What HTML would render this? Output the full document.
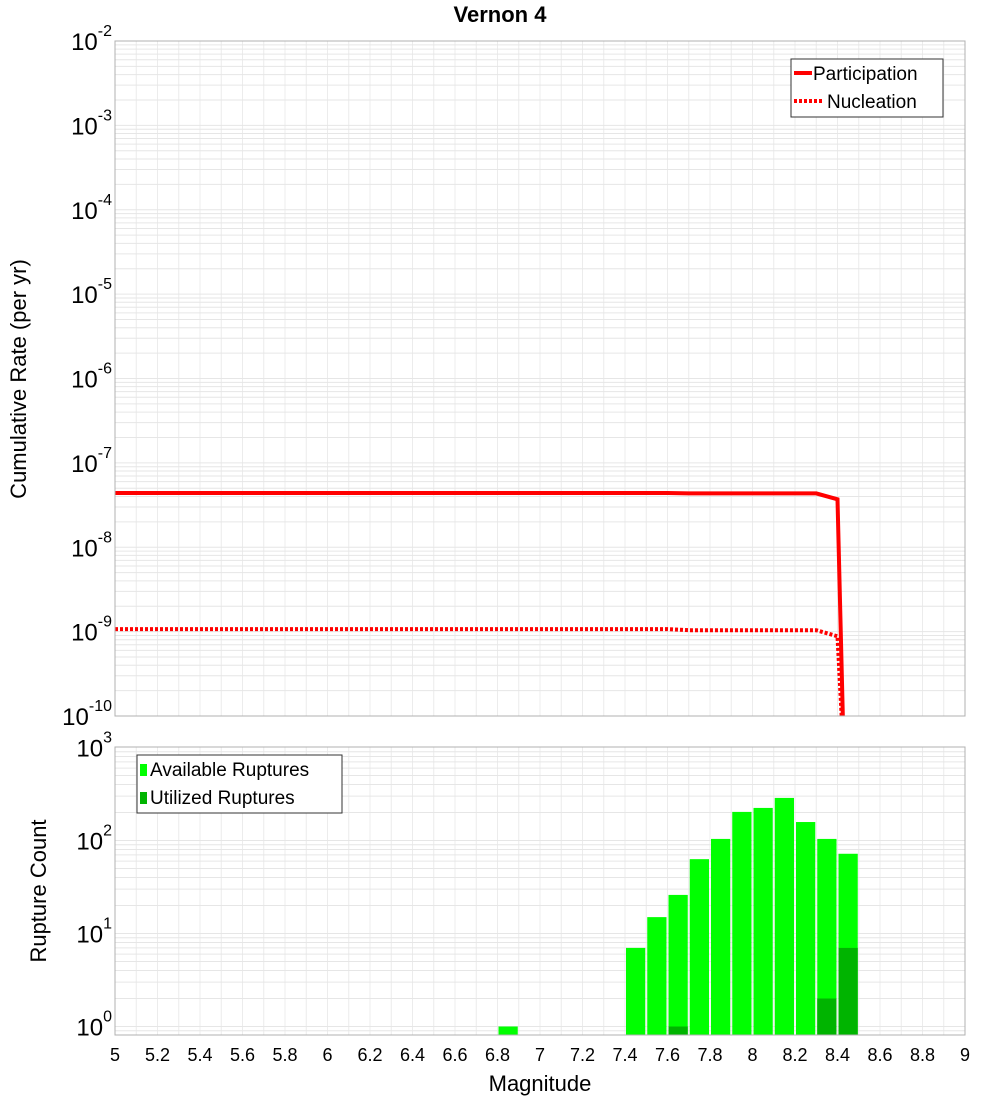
<!DOCTYPE html>
<html><head><meta charset="utf-8"><style>
body{margin:0;background:#fff}
svg{display:block;font-family:"Liberation Sans","DejaVu Sans",sans-serif}
</style></head><body>
<svg id="c" width="1000" height="1100" xmlns="http://www.w3.org/2000/svg"></svg>
<script>
const rateMags=[5.0,5.5,6.0,6.5,7.0,7.5,7.6,7.7,8.0,8.3,8.4,8.43];
const participation=[4.4e-8,4.4e-8,4.4e-8,4.4e-8,4.4e-8,4.4e-8,4.4e-8,4.35e-8,4.35e-8,4.35e-8,3.7e-8,3e-11];
const nucleation=[1.07e-9,1.07e-9,1.07e-9,1.07e-9,1.07e-9,1.07e-9,1.07e-9,1.04e-9,1.04e-9,1.04e-9,8.8e-10,3e-11];
const binMags=[6.85,7.45,7.55,7.65,7.75,7.85,7.95,8.05,8.15,8.25,8.35,8.45];
const available=[1,7,15,26,63,104,203,224,287,158,104,72];
const utilized=[0,0,0,1,0,0,0,0,0,0,2,7];
const xTicks=["5","5.2","5.4","5.6","5.8","6","6.2","6.4","6.6","6.8","7","7.2","7.4","7.6","7.8","8","8.2","8.4","8.6","8.8","9"];
const topExps=[-2,-3,-4,-5,-6,-7,-8,-9,-10];
const botExps=[3,2,1,0];

const NS="http://www.w3.org/2000/svg";
const svg=document.getElementById('c');
function el(t,a,p){const e=document.createElementNS(NS,t);for(const k in a)e.setAttribute(k,a[k]);(p||svg).appendChild(e);return e;}
const L=115,R=965;
const X=m=>L+(m-5)/4*(R-L);
const T0=41,T1=716;const yT=v=>T0+(-2-Math.log10(v))*(T1-T0)/8;
const B0=747,B1=1035;const yB=v=>1026.5-Math.log10(v)*93;

function grid(top,bot,yf,lo,hi,name){
  const g=el('g',{});
  
  
  for(let m=5;m<=9.001;m+=0.1){const x=X(m);el('line',{x1:x,x2:x,y1:top,y2:bot,stroke:'#ececec','stroke-width':1},g);}
  for(let e=lo;e<hi;e++)for(let k=1;k<10;k++){const y=yf(k*Math.pow(10,e));if(y>=top&&y<=bot)el('line',{x1:L,x2:R,y1:y,y2:y,stroke:'#e6e6e6','stroke-width':1},g);}
}
grid(T0,T1,yT,-10,-2,'top-grid');
grid(B0,B1,yB,-1,3,'bottom-grid');

// title
const t=el('text',{x:500,y:22,'text-anchor':'middle','font-size':22,'font-weight':'bold'});t.textContent='Vernon 4';


// top lines
function line(vals,extra,name){
  const g=el('g',{'clip-path':'url(#ct)'});
  const d=rateMags.map((m,i)=>(i?'L':'M')+X(m).toFixed(1)+','+yT(vals[i]).toFixed(1)).join(' ');
  const p=el('path',Object.assign({d:d,fill:'none',stroke:'#ff0000','stroke-width':4},extra),g);
  
}
const defs=el('defs',{});const cp=el('clipPath',{id:'ct'},defs);el('rect',{x:L,y:T0,width:R-L,height:T1-T0},cp);
line(nucleation,{'stroke-dasharray':'3,2'},'nucleation-line');
line(participation,{},'participation-line');

// bars
binMags.forEach((m,i)=>{
  const x=X(m-0.05)+1,w=X(m+0.05)-X(m-0.05)-2;
  if(available[i]>0){const y=yB(available[i]);const r=el('rect',{x:x,y:y,width:w,height:B1-y,fill:'#00ff00'});
  }
  if(utilized[i]>0){const y=yB(utilized[i]);const r=el('rect',{x:x,y:y,width:w,height:B1-y,fill:'#00b400'});
  }
});

// frames
const f1=el('rect',{x:L,y:T0,width:R-L,height:T1-T0,fill:'none',stroke:'#b0b0b0'});

const f2=el('rect',{x:L,y:B0,width:R-L,height:B1-B0,fill:'none',stroke:'#b0b0b0'});


// y tick labels
function ylab(y,e,name){
  const tx=el('text',{x:112,y:y+9,'text-anchor':'end','font-size':24});
  
  const a=el('tspan',{},tx);a.textContent='10';
  const b=el('tspan',{dy:-14,'font-size':16},tx);b.textContent=String(e);
}
topExps.forEach(e=>ylab(yT(Math.pow(10,e)),e,'y-tick-label'));
botExps.forEach(e=>ylab(yB(Math.pow(10,e)),e,'y-tick-label'));

// x ticks
xTicks.forEach(s=>{const x=X(parseFloat(s));const tx=el('text',{x:x,y:1061,'text-anchor':'middle','font-size':18});tx.textContent=s;
});

// axis titles
let a=el('text',{x:540,y:1091,'text-anchor':'middle','font-size':22});a.textContent='Magnitude';

a=el('text',{x:0,y:0,'text-anchor':'middle','font-size':22,transform:'translate(26,379) rotate(-90)'});a.textContent='Cumulative Rate (per yr)';

a=el('text',{x:0,y:0,'text-anchor':'middle','font-size':22,transform:'translate(46,891) rotate(-90)'});a.textContent='Rupture Count';


// legends
let lg=el('g',{});
el('rect',{x:791,y:59,width:152,height:58,fill:'#fff',stroke:'#333'},lg);
el('line',{x1:794,x2:812,y1:73,y2:73,stroke:'#f00','stroke-width':4},lg);
el('line',{x1:794,x2:822,y1:101,y2:101,stroke:'#f00','stroke-width':4,'stroke-dasharray':'3,2'},lg);
let tt=el('text',{x:813,y:80,'font-size':19},lg);tt.textContent='Participation';
tt=el('text',{x:827,y:108,'font-size':19},lg);tt.textContent='Nucleation';
lg=el('g',{});
el('rect',{x:137,y:755,width:205,height:58,fill:'#fff',stroke:'#333'},lg);
el('rect',{x:140,y:764,width:7,height:12,fill:'#00ff00'},lg);
el('rect',{x:140,y:792,width:7,height:12,fill:'#00b400'},lg);
tt=el('text',{x:150,y:776,'font-size':19},lg);tt.textContent='Available Ruptures';
tt=el('text',{x:150,y:804,'font-size':19},lg);tt.textContent='Utilized Ruptures';
</script>
</body></html>
